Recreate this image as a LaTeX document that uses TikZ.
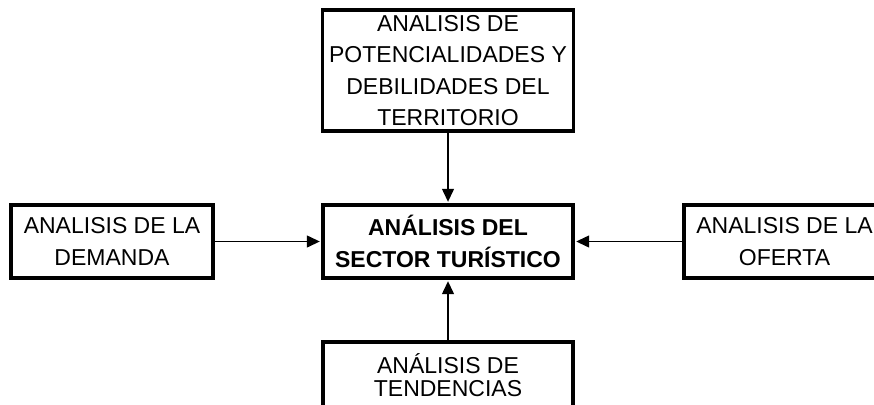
\documentclass[tikz,border=0pt]{standalone}
\usepackage{fontspec}
\setmainfont{Liberation Sans}
\usetikzlibrary{arrows.meta}

\begin{document}
\begin{tikzpicture}[x=1pt, y=-1pt,
        box/.style={draw, line width=3.2pt, inner sep=0pt, align=center,
            minimum height=73pt, font=\fontsize{23}{31.5}\selectfont},
        >={Triangle[length=13pt,width=12pt]}]
        \useasboundingbox (0,0) rectangle (874,404);
        \clip (0,0) rectangle (874,404);

        % Centre
        \node[box, minimum width=250pt, font=\bfseries\fontsize{23}{32.5}\selectfont] (sector) at (448,241.5) {ANÁLISIS DEL\\SECTOR TURÍSTICO};

        % Surrounding analyses
        \node[box, minimum width=251pt, minimum height=121pt] (territorio) at (448,70.5) {ANALISIS DE\\POTENCIALIDADES Y\\DEBILIDADES DEL\\TERRITORIO};
        \node[box, minimum width=202pt] (demanda) at (112,241.5) {ANALISIS DE LA\\DEMANDA};
        \node[box, minimum width=201pt] (oferta) at (784.5,241.5) {ANALISIS DE LA\\OFERTA};
        \node[box, minimum width=250pt, minimum height=66pt, font=\fontsize{23}{22.5}\selectfont] (tendencias) at (448,375) {ANÁLISIS DE\\TENDENCIAS};

        % Edges
        \draw[line width=1.3pt, shorten >=1.6pt]
              (territorio) edge[->] (sector)
              (demanda) edge[->] (sector)
              (oferta) edge[->] (sector)
              (tendencias) edge[->] (sector);
\end{tikzpicture}
\end{document}
